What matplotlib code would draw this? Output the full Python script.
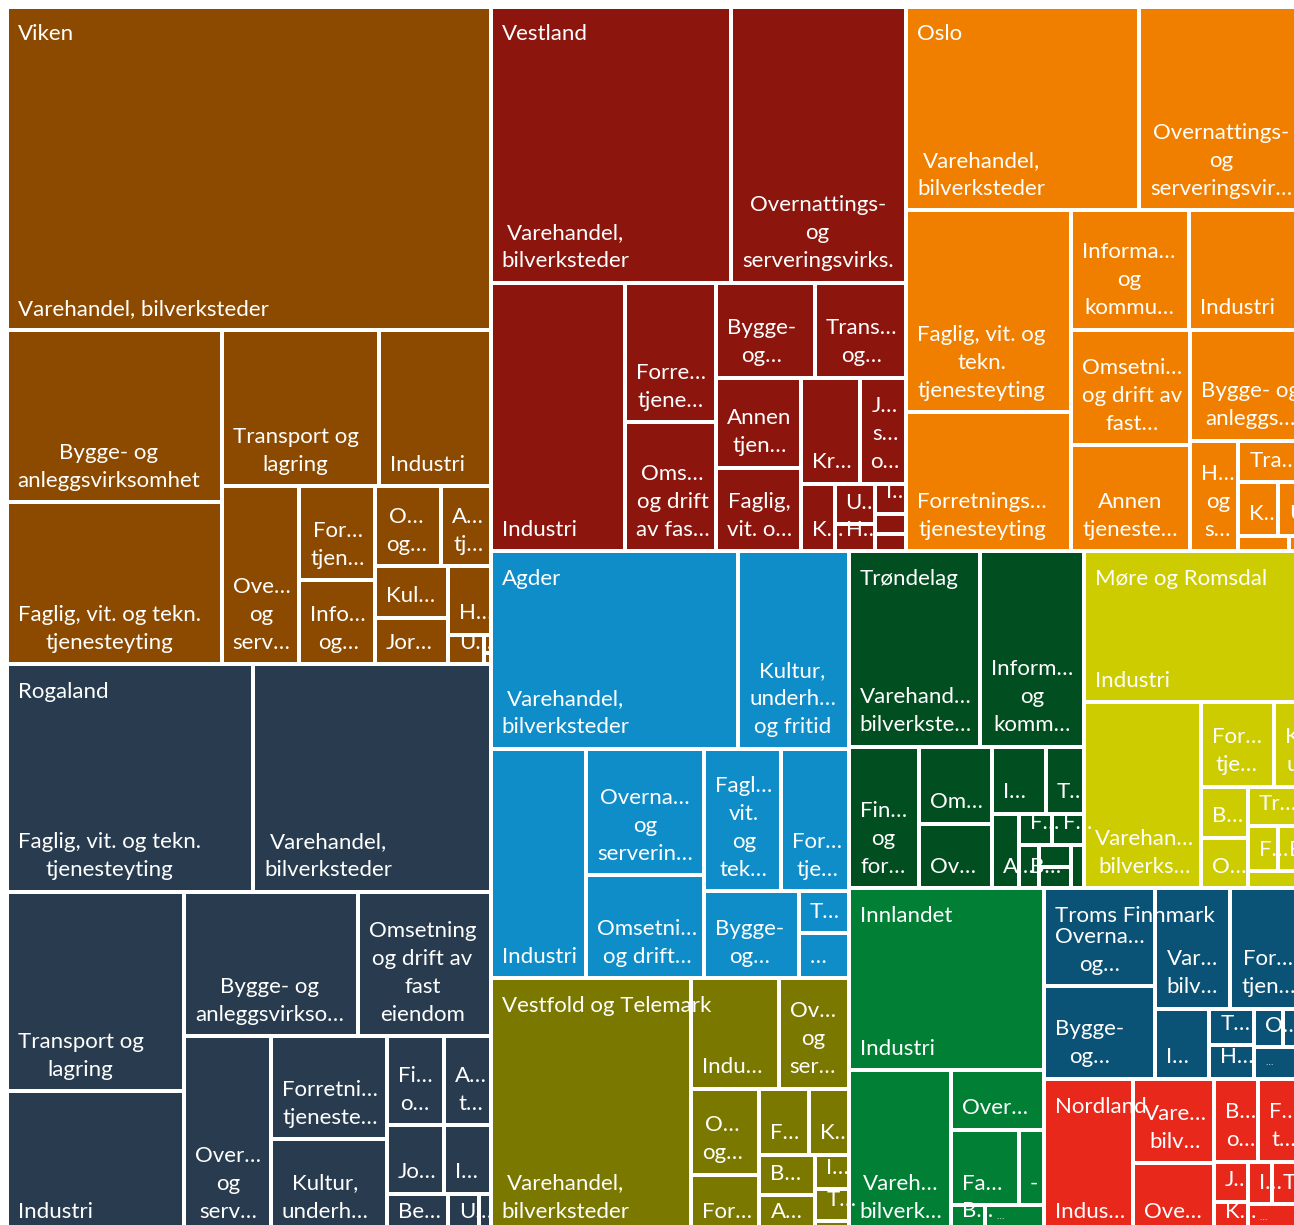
import matplotlib
matplotlib.use("Agg")
import matplotlib.pyplot as plt
from matplotlib.patches import Rectangle

plt.rcParams['font.family'] = ['Lato', 'DejaVu Sans']

# ---------------- data ----------------
REGIONS = ["Viken", "Rogaland", "Vestland", "Oslo", "Agder", "Vestfold og Telemark",
           "Trøndelag", "Møre og Romsdal", "Innlandet", "Troms Finnmark", "Nordland"]

REGION_COLORS = ["#8C4A00", "#283B4F", "#8C160D", "#F07F00", "#0E8DC9", "#7B7800",
                 "#014F20", "#CCCC00", "#017F34", "#0B5376", "#E8281B"]

VIKEN_LABELS = ["Varehandel, bilverksteder", "Bygge- og\nanleggsvirksomhet",
                "Faglig, vit. og tekn.\ntjenesteyting", "Transport og\nlagring", "Industri",
                "Ove…\nog\nserv…", "For…\ntjen…", "Info…\nog…", "O…\nog…", "A…\ntj…",
                "Kul…", "Jor…", "H…", "U…", "", ""]
VIKEN_VALUES = [156574, 36937, 34873, 24600, 17416, 13815, 7076, 6366, 5285, 3924,
                3759, 3381, 2954, 1062, 130, 76]

ROGALAND_LABELS = ["Faglig, vit. og tekn.\ntjenesteyting", "Varehandel,\nbilverksteder",
                   "Transport og\nlagring", "Industri", "Bygge- og\nanleggsvirkso…",
                   "Omsetning\nog drift av\nfast\neiendom", "Over…\nog\nserv…",
                   "Forretni…\ntjeneste…", "Kultur,\nunderh…", "Fi…\no…", "A…\nt…",
                   "Jo…", "I…", "Be…", "U…", ""]
ROGALAND_VALUES = [56122, 53939, 35398, 25216, 25059, 19232, 17017, 11915, 10860,
                   5100, 4107, 3939, 3172, 2417, 1210, 452]

VESTLAND_LABELS = ["Varehandel,\nbilverksteder", "Overnattings-\nog\nserveringsvirks.",
                   "Industri", "Forre…\ntjene…", "Oms…\nog drift\nav fas…", "Bygge-\nog…",
                   "Trans…\nog…", "Annen\ntjen…", "Faglig,\nvit. o…", "Kr…", "J…\ns…\no…",
                   "K…", "U…", "H…", "I…", "", ""]
VESTLAND_VALUES = [66240, 48438, 35979, 12736, 11778, 9348, 8721, 7650, 7098, 6208,
                   4975, 2244, 1616, 1072, 944, 658, 534]

OSLO_LABELS = ["Varehandel,\nbilverksteder", "Overnattings-\nog\nserveringsvir…",
               "Faglig, vit. og\ntekn.\ntjenesteyting", "Forretnings…\ntjenesteyting",
               "Informa…\nog\nkommu…", "Industri", "Omsetni…\nog drift av\nfast…",
               "Annen\ntjeneste…", "Bygge- og\nanleggs…", "H…\nog\ns…", "Tra…", "K…", "U…",
               "", ""]
OSLO_VALUES = [47314, 33781, 33319, 22844, 14053, 13886, 13687, 12561, 12741, 5339,
               2800, 2108, 1433, 794, 248]

AGDER_LABELS = ["Varehandel,\nbilverksteder", "Kultur,\nunderh…\nog fritid", "Industri",
                "Overna…\nog\nserverin…", "Omsetni…\nog drift…", "Fagl…\nvit.\nog\ntek…",
                "For…\ntje…", "Bygge-\nog…", "T…", "…"]
AGDER_VALUES = [48891, 21885, 21829, 14941, 12185, 10891, 9628, 8232, 2113, 2269]

VT_LABELS = ["Varehandel,\nbilverksteder", "Indu…", "Ov…\nog\nser…", "O…\nog…", "For…",
             "F…", "K…", "B…", "A…", "I…", "T…", ""]
VT_VALUES = [50976, 9651, 7743, 5882, 3981, 3295, 2590, 2277, 2093, 1156, 1075, 392]

TRONDELAG_LABELS = ["Varehand…\nbilverkste…", "Inform…\nog\nkomm…", "Fin…\nog\nfor…",
                    "Om…", "Ov…", "I…", "T…", "A…", "F…", "F…", "B…", "", "", ""]
TRONDELAG_VALUES = [25735, 20255, 9863, 5638, 4776, 3576, 2517, 2032, 1004, 983, 860,
                    720, 690, 546]

MR_LABELS = ["Industri", "Varehan…\nbilverks…", "For…\ntje…", "K…\nu…", "B…", "O…",
             "Tr…", "F…", "B…", ""]
MR_VALUES = [33437, 21764, 6162, 2600, 2400, 2380, 2240, 1351, 1229, 975]

INNLANDET_LABELS = ["Industri", "Vareh…\nbilverk…", "Over…", "Fa…", "-", "B…", "…"]
INNLANDET_VALUES = [35490, 16543, 5517, 5154, 1910, 954, 1609]

TF_LABELS = ["Overna…\nog…", "Bygge-\nog…", "Var…\nbilv…", "For…\ntjen…", "I…", "T…",
             "H…", "O…", "K…", "…"]
TF_VALUES = [10894, 10347, 9000, 9000, 3791, 1652, 1508, 1103, 851, 1591]

NORDLAND_LABELS = ["Indus…", "Vare…\nbilv…", "Ove…", "B…\no…", "F…\nt…", "J…", "K…",
                   "I…", "T…", "…"]
NORDLAND_VALUES = [13675, 6828, 5646, 3680, 3862, 1378, 1060, 1027, 1412, 1625]

CHILD_LABELS = [VIKEN_LABELS, ROGALAND_LABELS, VESTLAND_LABELS, OSLO_LABELS, AGDER_LABELS,
                VT_LABELS, TRONDELAG_LABELS, MR_LABELS, INNLANDET_LABELS, TF_LABELS,
                NORDLAND_LABELS]
CHILD_VALUES = [VIKEN_VALUES, ROGALAND_VALUES, VESTLAND_VALUES, OSLO_VALUES, AGDER_VALUES,
                VT_VALUES, TRONDELAG_VALUES, MR_VALUES, INNLANDET_VALUES, TF_VALUES,
                NORDLAND_VALUES]

# ---------------- layout options (strip sizes of the squarified layout) ----------------
TOP_STRIPS = [2, 2, 2, 2, 1, 1, 1]
CHILD_STRIPS = [
    [1, 2, 2, 1, 2, 2, 2, 1, 1, 1, 1],      # Viken
    [2, 2, 2, 1, 2, 2, 2, 1, 1, 1],         # Rogaland
    [2, 1, 2, 2, 2, 2, 1, 2, 1, 1, 1],      # Vestland
    [2, 2, 2, 2, 1, 1, 1, 2, 1, 1],         # Oslo
    [2, 1, 2, 2, 1, 1, 1],                  # Agder
    [1, 2, 2, 2, 2, 1, 1, 1],               # Vestfold og Telemark
    [2, 1, 2, 2, 1, 2, 1, 2, 1],            # Trøndelag
    [1, 1, 2, 2, 1, 2, 1],                  # Møre og Romsdal
    [1, 1, 1, 2, 1, 1],                     # Innlandet
    [2, 2, 1, 2, 2, 1],                     # Troms Finnmark
    [1, 2, 2, 2, 2, 1],                     # Nordland
]


def strip_layout(values, x, y, w, h, strips):
    """Squarified-style strip layout: each strip runs along the shorter side."""
    rects = []
    i = 0
    for k in strips:
        group = values[i:i + k]
        s = float(sum(group))
        rem = float(sum(values[i:]))
        if w >= h:  # vertical strip on the left
            cw = w * s / rem
            yy = y
            for v in group:
                ch = h * v / s
                rects.append((x, yy, cw, ch))
                yy += ch
            x += cw
            w -= cw
        else:       # horizontal strip on top
            rh = h * s / rem
            xx = x
            for v in group:
                cw = w * v / s
                rects.append((xx, y, cw, rh))
                xx += cw
            y += rh
            h -= rh
        i += k
    return rects


FIG_W, FIG_H = 1294, 1225
X0, Y0, W, H = 6.5, 6.5, 1298.5, 1226.5
GAP = 2.0
FS = 16.0

fig = plt.figure(figsize=(FIG_W / 100, FIG_H / 100), dpi=100)
ax = fig.add_axes([0, 0, 1, 1])
ax.set_xlim(0, FIG_W)
ax.set_ylim(FIG_H, 0)
ax.axis('off')

region_totals = [sum(v) for v in CHILD_VALUES]
region_rects = strip_layout(region_totals, X0, Y0, W, H, TOP_STRIPS)

region_label_pos = []
for r, (rx, ry, rw, rh) in enumerate(region_rects):
    color = REGION_COLORS[r]
    cells = strip_layout(CHILD_VALUES[r], rx, ry, rw, rh, CHILD_STRIPS[r])
    for (cx, cy, cw, ch), lab in zip(cells, CHILD_LABELS[r]):
        ax.add_patch(Rectangle((cx + GAP, cy + GAP), cw - 2 * GAP, ch - 2 * GAP,
                               facecolor=color, edgecolor='none'))
        if lab:
            small = (lab == "…" and ch < 36)
            ax.text(cx + 11, cy + ch - 11.5, lab, color='white',
                    fontsize=7 if small else FS, ha='left', va='bottom',
                    multialignment='center', linespacing=1.5)
    region_label_pos.append((rx + 11, ry + 34))

for r, (lx, ly) in enumerate(region_label_pos):
    ax.text(lx, ly, REGIONS[r], color='white', fontsize=FS, ha='left', va='baseline')

fig.savefig("out.png", dpi=100)
